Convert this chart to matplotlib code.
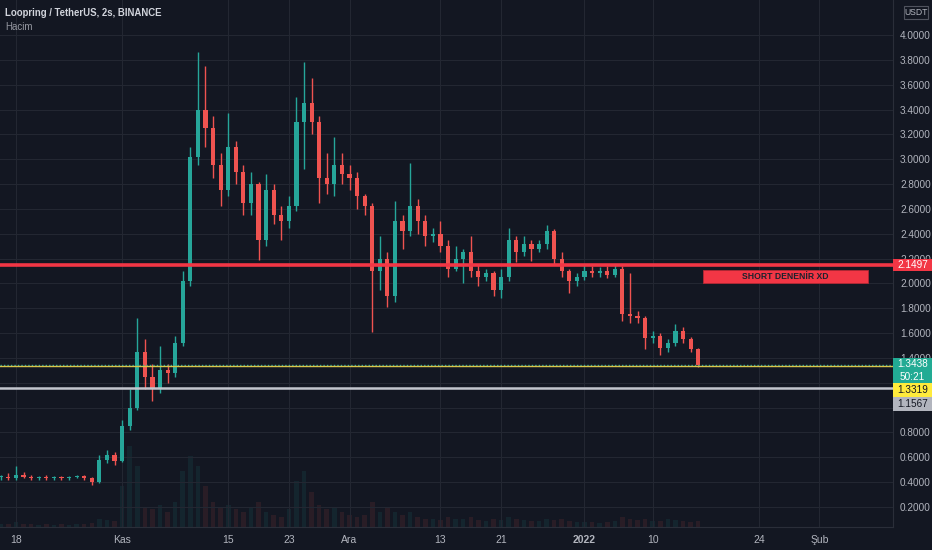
import numpy as np
import pandas as pd
import matplotlib
matplotlib.use("Agg")
import matplotlib.pyplot as plt
import matplotlib.dates as mdates
from matplotlib.patches import Rectangle
from matplotlib.transforms import blended_transform_factory

plt.rcParams['font.family'] = ['Liberation Sans', 'DejaVu Sans']

# daily candles (LRC/USDT)
dates = pd.date_range("2021-10-16", "2022-01-16", freq="D")
opens = [.44, .44, .43, .46, .44, .43, .44, .43, .44, .43, .44, .45, .43, .40, .58, .62,
         .57, .85, 1.00, 1.45, 1.25, 1.15, 1.30, 1.28, 1.52, 2.02, 3.02, 3.40, 3.25, 2.95,
         2.75, 3.10, 2.90, 2.65, 2.80, 2.35, 2.75, 2.55, 2.50, 2.62, 3.30, 3.45, 3.30, 2.85,
         2.80, 2.95, 2.88, 2.85, 2.70, 2.62, 2.10, 2.20, 1.90, 2.50, 2.42, 2.62, 2.50, 2.38,
         2.40, 2.30, 2.12, 2.20, 2.25, 2.10, 2.05, 2.08, 1.95, 2.05, 2.35, 2.25, 2.32, 2.28,
         2.32, 2.42, 2.20, 2.10, 2.02, 2.05, 2.10, 2.08, 2.10, 2.07, 2.12, 1.75, 1.74, 1.72,
         1.56, 1.58, 1.48, 1.52, 1.62, 1.55, 1.47]
highs = [.46, .47, .53, .48, .46, .45, .46, .45, .45, .45, .46, .46, .44, .62, .66, .64,
         .90, 1.15, 1.72, 1.55, 1.35, 1.50, 1.35, 1.58, 2.10, 3.10, 3.86, 3.75, 3.35, 3.05,
         3.37, 3.15, 2.95, 2.90, 2.82, 2.88, 2.80, 2.62, 2.70, 3.50, 3.78, 3.65, 3.35, 3.05,
         3.18, 3.05, 2.95, 2.90, 2.72, 2.65, 2.38, 2.25, 2.66, 2.55, 2.97, 2.68, 2.55, 2.45,
         2.50, 2.35, 2.30, 2.28, 2.38, 2.15, 2.12, 2.10, 2.12, 2.45, 2.38, 2.38, 2.35, 2.35,
         2.47, 2.44, 2.25, 2.12, 2.08, 2.15, 2.14, 2.13, 2.14, 2.15, 2.14, 2.08, 1.78, 1.74,
         1.62, 1.60, 1.55, 1.67, 1.65, 1.57, 1.48]
lows = [.42, .42, .42, .43, .42, .42, .42, .42, .42, .42, .43, .42, .38, .39, .55, .54,
        .56, .82, .98, 1.15, 1.05, 1.12, 1.20, 1.25, 1.50, 1.98, 2.95, 3.10, 2.85, 2.62,
        2.70, 2.80, 2.55, 2.55, 2.19, 2.30, 2.48, 2.35, 2.45, 2.58, 2.92, 3.20, 2.65, 2.72,
        2.70, 2.80, 2.75, 2.60, 2.55, 1.61, 1.95, 1.81, 1.85, 2.28, 2.38, 2.40, 2.30, 2.33,
        2.25, 2.05, 2.10, 2.00, 2.05, 1.98, 2.02, 1.90, 1.88, 2.02, 2.17, 2.22, 2.18, 2.25,
        2.28, 2.15, 2.05, 1.92, 1.98, 2.03, 2.05, 2.05, 2.04, 2.05, 1.70, 1.68, 1.68, 1.47,
        1.52, 1.42, 1.45, 1.50, 1.52, 1.45, 1.33]
closes = [.44, .43, .46, .44, .43, .44, .43, .44, .43, .44, .45, .43, .40, .58, .62, .57,
          .85, 1.00, 1.45, 1.25, 1.15, 1.30, 1.28, 1.52, 2.02, 3.02, 3.40, 3.25, 2.95, 2.75,
          3.10, 2.90, 2.65, 2.80, 2.35, 2.75, 2.55, 2.50, 2.62, 3.30, 3.45, 3.30, 2.85, 2.80,
          2.95, 2.88, 2.85, 2.70, 2.62, 2.10, 2.20, 1.90, 2.50, 2.42, 2.62, 2.50, 2.38, 2.40,
          2.30, 2.12, 2.20, 2.25, 2.10, 2.05, 2.08, 1.95, 2.05, 2.35, 2.25, 2.32, 2.28, 2.32,
          2.42, 2.20, 2.10, 2.02, 2.05, 2.10, 2.08, 2.10, 2.07, 2.12, 1.75, 1.74, 1.72, 1.56,
          1.58, 1.48, 1.52, 1.62, 1.55, 1.47, 1.3438]
volumes = [3, 3, 5, 3, 3, 2, 3, 2, 3, 2, 3, 3, 4, 8, 7, 6,
           40, 80, 60, 20, 18, 22, 15, 25, 55, 70, 60, 40,
           25, 20, 22, 18, 15, 20, 25, 15, 12, 10, 18, 45, 55, 35,
           22, 18, 20, 15, 12, 10, 12, 25, 15, 20, 15,
           12, 15, 10, 8, 8, 7, 10, 8, 8, 10, 7, 6, 8, 7, 10, 8, 7, 6, 6, 8,
           7, 8, 6, 5, 5, 5, 4, 5, 6, 10, 8, 7, 8, 6, 6, 8, 7, 6, 5, 6]

tick_dates = ["2021-10-18", "2021-11-01", "2021-11-15", "2021-11-23", "2021-12-01",
              "2021-12-13", "2021-12-21", "2022-01-01", "2022-01-10", "2022-01-24", "2022-02-01"]
tick_labels = ["18", "Kas", "15", "23", "Ara", "13", "21", "2022", "10", "24", "Şub"]

resistance = 2.1497
last_price = 1.3438
yellow_level = 1.3319
grey_level = 1.1567
countdown = "50:21"
note = "SHORT DENENİR XD"
title = "Loopring / TetherUS, 2s, BINANCE"

bg = "#131722"
grid = "#232732"
txt = "#b2b5be"
up = "#26a69a"
down = "#ef5350"

o = np.array(opens); h = np.array(highs); l = np.array(lows); c = np.array(closes)
x = mdates.date2num(dates)
cols = np.where(c >= o, up, down)

fig = plt.figure(figsize=(9.32, 5.5), dpi=100, facecolor=bg)
ax = fig.add_axes([0, 23 / 550, 893 / 932, 527 / 550])
vax = ax.twinx()

# volume (very faint, as in the reference)
vax.bar(x, volumes, width=0.6, color=cols, alpha=0.1, zorder=1)
vax.set_ylim(0, 520)
vax.set_yticks([])
for s in vax.spines.values():
    s.set_visible(False)

ax.set_zorder(vax.get_zorder() + 1)
ax.patch.set_visible(False)
vax.patch.set_facecolor(bg)
vax.patch.set_visible(True)

# candles
ax.vlines(x, l, h, colors=cols, linewidth=1, zorder=3)
ax.bar(x, np.maximum(np.abs(c - o), 0.008), bottom=np.minimum(o, c),
       width=0.55, color=cols, zorder=3)

x0 = mdates.date2num(pd.Timestamp("2021-10-18"))
ax.set_xlim(x0 - 2.11, x0 + 115.7)
ax.set_ylim(0.0387, 4.282)

ax.set_xticks(mdates.date2num(pd.to_datetime(tick_dates)))
ax.set_xticklabels(tick_labels)
for t in ax.get_xticklabels():
    t.set_color(txt)
    t.set_fontsize(7.5)
    if t.get_text() == "2022":
        t.set_color("#e0e3eb")
        t.set_fontweight("bold")
ax.yaxis.tick_right()
levels = np.arange(0.2, 4.01, 0.2)
ax.set_yticks(levels)
# 1.0 and 1.2 sit under the price tags, so they are not shown
ax.set_yticklabels(["" if 0.9 < v < 1.3 else f"{v:.4f}" for v in levels])
ax.tick_params(axis="y", colors=txt, labelsize=7.2, length=0, pad=5)
ax.tick_params(axis="x", colors=txt, length=0, pad=6)
ax.grid(True, color=grid, linewidth=0.8)
ax.set_axisbelow(True)
for k, s in ax.spines.items():
    s.set_visible(k in ("right", "bottom"))
    s.set_color("#2a2e39")

# horizontal levels
ax.axhline(resistance, color="#f23645", linewidth=2.6, zorder=4)
ax.axhline(last_price, color=up, linewidth=1, linestyle=(0, (1, 1.5)), zorder=4)
ax.axhline(yellow_level, color="#d8c54a", linewidth=1, zorder=4)
ax.axhline(grey_level, color="#c3c6ce", linewidth=1.8, zorder=4)

# note box
ax.add_patch(Rectangle((x0 + 90.6, 2.003), 21.8, 0.105, facecolor="#f23645",
                       edgecolor="#b22833", linewidth=0.6, zorder=5))
ax.text(x0 + 101.5, 2.055, note, ha="center", va="center", fontsize=6.2,
        color="#1e222d", fontweight="semibold", zorder=6)

# price tags on the axis
tr = blended_transform_factory(ax.transAxes, ax.transData)
w = 39 / 893
def tag(y_lo, y_hi, face, label, tcolor, y_text):
    ax.add_patch(Rectangle((1.0, y_lo), w, y_hi - y_lo, transform=tr, facecolor=face,
                           edgecolor="none", clip_on=False, zorder=10))
    ax.text(1.0 + w / 2, y_text, label, transform=tr, ha="center", va="center",
            fontsize=7.2, color=tcolor, clip_on=False, zorder=11)

tag(2.100, 2.1965, "#f23645", f"{resistance:.4f}", "#ffffff", resistance)
tag(1.198, 1.3994, "#22ab94", f"{last_price:.4f}", "#ffffff", 1.349)
ax.text(1.0 + w / 2, 1.245, countdown, transform=tr, ha="center", va="center",
        fontsize=7.2, color="#ffffff", clip_on=False, zorder=11)
tag(1.0853, 1.198, "#ffeb3b", f"{yellow_level:.4f}", "#131722", 1.141)
tag(0.9726, 1.0853, "#b2b5be", f"{grey_level:.4f}", "#131722", 1.029)

# header
fig.text(5 / 932, 1 - 13 / 550, title, fontsize=6.9, color="#d1d4dc",
         fontweight="bold", va="center", ha="left")
fig.text(5 / 932, 1 - 27 / 550, "Hacim", fontsize=7, color="#9598a1",
         va="center", ha="left")
fig.add_artist(Rectangle((904 / 932, 1 - 19 / 550), 24 / 932, 13 / 550,
                         transform=fig.transFigure, facecolor=bg,
                         edgecolor="#50535e", linewidth=0.8))
fig.text(916 / 932, 1 - 12.5 / 550, "USDT", fontsize=6.2, color=txt,
         ha="center", va="center")

fig.savefig("out.png", dpi=100, facecolor=bg)
